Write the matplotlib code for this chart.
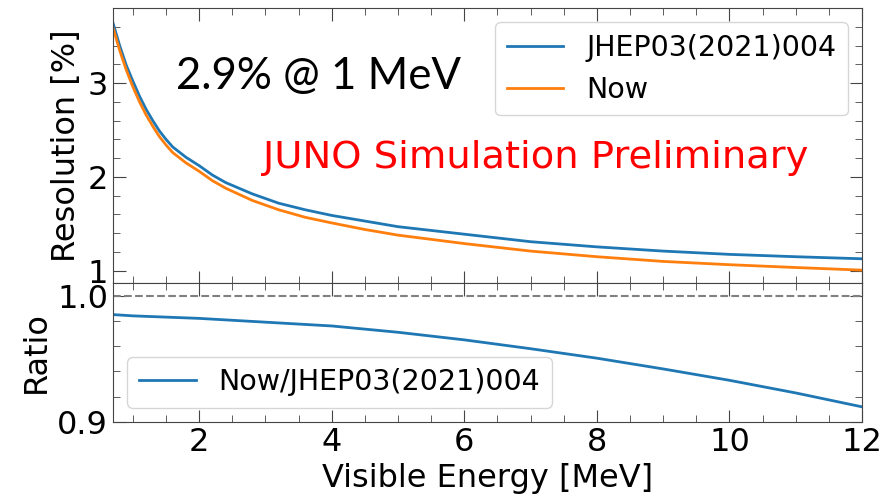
import numpy as np
import matplotlib
matplotlib.use("Agg")
import matplotlib.pyplot as plt
from matplotlib.ticker import MultipleLocator

# values
energy = [0.7, 0.8, 0.9, 1.0, 1.1, 1.2, 1.3, 1.4, 1.5, 1.6, 1.8, 2.0, 2.2,
          2.4, 2.8, 3.2, 3.6, 4.0, 4.5, 5.0, 6.0, 7.0, 8.0, 9.0, 10.0, 11.0, 12.0]
res_jhep = [3.64, 3.40, 3.19, 3.02, 2.86, 2.72, 2.60, 2.49, 2.40, 2.32, 2.21,
            2.12, 2.02, 1.94, 1.82, 1.72, 1.65, 1.59, 1.53, 1.47, 1.39, 1.31,
            1.255, 1.21, 1.175, 1.15, 1.128]
res_now = [3.59, 3.35, 3.14, 2.96, 2.80, 2.66, 2.54, 2.43, 2.34, 2.26, 2.15,
           2.06, 1.96, 1.88, 1.75, 1.65, 1.57, 1.51, 1.44, 1.38, 1.29, 1.21,
           1.15, 1.10, 1.065, 1.035, 1.007]

ratio_energy = [0.7, 1.0, 2.0, 3.0, 4.0, 5.0, 6.0, 7.0, 8.0, 9.0, 10.0, 11.0, 12.0]
ratio = [0.985, 0.984, 0.982, 0.979, 0.976, 0.971, 0.965, 0.958, 0.9505,
         0.942, 0.933, 0.923, 0.912]

fs = 23
leg_fs = 20.5
plt.rcParams['font.size'] = fs

fig = plt.figure(figsize=(8.85, 5), dpi=100)
ax1 = fig.add_axes([0.1277, 0.434, 0.8463, 0.55])
ax2 = fig.add_axes([0.1277, 0.156, 0.8463, 0.278], sharex=ax1)

ax1.plot(energy, res_jhep, color="tab:blue", lw=2, label="JHEP03(2021)004")
ax1.plot(energy, res_now, color="tab:orange", lw=2, label="Now")
ax1.set_xlim(0.7, 12)
ax1.set_ylim(0.87, 3.8)
ax1.set_ylabel("Resolution [%]")
ax1.yaxis.set_major_locator(MultipleLocator(1))
ax1.yaxis.set_minor_locator(MultipleLocator(0.2))
ax1.legend(loc="upper right", fontsize=leg_fs)
ax1.tick_params(labelbottom=False)
ax1.text(0.084, 0.75, "2.9% @ 1 MeV", transform=ax1.transAxes, va="center",
         fontsize=31.5, family=["Lato", "DejaVu Sans"], color="black")
ax1.text(0.2, 0.455, "JUNO Simulation Preliminary", transform=ax1.transAxes,
         va="center", fontsize=27.7, color="red")

ax2.plot(ratio_energy, ratio, color="tab:blue", lw=2, label="Now/JHEP03(2021)004")
ax2.axhline(1.0, color="gray", ls="--", lw=1.5)
ax2.set_ylim(0.9, 1.01)
ax2.set_ylabel("Ratio")
ax2.set_xlabel("Visible Energy [MeV]")
ax2.yaxis.set_major_locator(MultipleLocator(0.1))
ax2.yaxis.set_minor_locator(MultipleLocator(0.02))
ax2.yaxis.set_major_formatter(plt.FormatStrFormatter("%.1f"))
ax2.legend(loc="lower left", fontsize=leg_fs)

for ax in (ax1, ax2):
    ax.xaxis.set_major_locator(MultipleLocator(2))
    ax.xaxis.set_minor_locator(MultipleLocator(0.5))
    ax.tick_params(which="both", direction="in", top=True, right=True, color="#444444")
    ax.tick_params(which="major", length=9)
    ax.tick_params(which="minor", length=5)
    for s in ax.spines.values():
        s.set_color("#444444")

fig.savefig("out.png", dpi=100)
